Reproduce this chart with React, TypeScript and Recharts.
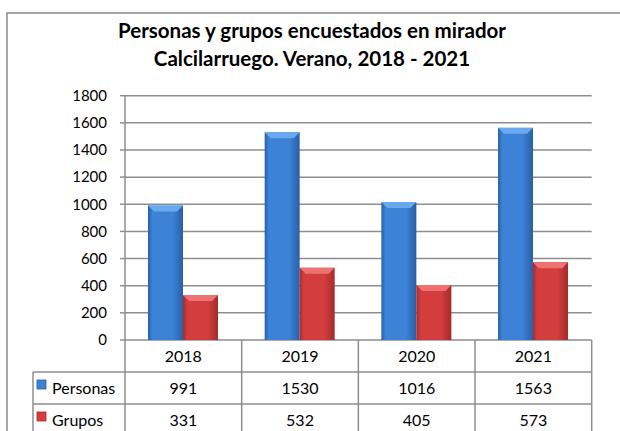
import { BarChart, Bar, XAxis, YAxis, CartesianGrid } from "recharts"

const years = ["2018", "2019", "2020", "2021"];
const personas = [991, 1530, 1016, 1563];
const grupos = [331, 532, 405, 573];
const yTicks = [0, 200, 400, 600, 800, 1000, 1200, 1400, 1600, 1800];

const series = [
  { key: "personas", label: "Personas", values: personas, mid: "#3c82d6", edge: "#2a5fa6", top: "#69a9ef" },
  { key: "grupos", label: "Grupos", values: grupos, mid: "#d43d3d", edge: "#a42b2b", top: "#ee7272" },
];

const data = years.map((year, i) => ({ year, personas: personas[i], grupos: grupos[i] }));

const W = 620;
const H = 431;
const left = 125;
const right = 28.3;
const top = 95.7;
const axisH = 91;
const colW = (W - left - right) / years.length;
const rowH = 32;
const legendLeft = 33;
const gridColor = "#8e8e8e";
const font = "Lato, 'Open Sans', sans-serif";

const Cylinder = (props: any) => {
  const { x, y, width, height, s } = props;
  if (!height || height <= 0) return null;
  const id = "grad-" + s.key;
  const bev = Math.min(6, height / 2);
  return (
    <g>
      <defs>
        <linearGradient id={id} x1="0" y1="0" x2="1" y2="0">
          <stop offset="0%" stopColor={s.edge} />
          <stop offset="12%" stopColor={s.mid} />
          <stop offset="70%" stopColor={s.mid} />
          <stop offset="100%" stopColor={s.edge} />
        </linearGradient>
      </defs>
      <rect x={x} y={y} width={width} height={height} fill={`url(#${id})`} />
      <polygon
        points={`${x},${y} ${x + width},${y} ${x + width - 6},${y + bev} ${x + 6},${y + bev}`}
        fill={s.top}
      />
    </g>
  );
};

const TableTick = (props: any) => {
  const { x, y, payload } = props;
  const i = payload.index;
  const x0 = x - colW / 2;
  const cells = [
    <line key="v" x1={x0 + colW} y1={y} x2={x0 + colW} y2={y + axisH} stroke={gridColor} strokeWidth={1.5} />,
    <text key="h" x={x} y={y + rowH / 2 + 6} textAnchor="middle" fontSize={16} fontFamily={font} fill="#000">
      {years[i]}
    </text>,
  ];
  series.forEach((s, r) => {
    cells.push(
      <text key={s.key} x={x} y={y + rowH * (r + 1) + rowH / 2 + 6} textAnchor="middle" fontSize={16} fontFamily={font} fill="#000">
        {s.values[i]}
      </text>
    );
  });
  let legend = null;
  if (i === 0) {
    legend = (
      <g>
        <line x1={x0} y1={y} x2={x0} y2={y + axisH} stroke={gridColor} strokeWidth={1.5} />
        <line x1={legendLeft} y1={y + rowH} x2={left + colW * years.length} y2={y + rowH} stroke={gridColor} strokeWidth={1.5} />
        <line x1={legendLeft} y1={y + rowH * 2} x2={left + colW * years.length} y2={y + rowH * 2} stroke={gridColor} strokeWidth={1.5} />
        <line x1={legendLeft} y1={y + rowH} x2={legendLeft} y2={y + axisH} stroke={gridColor} strokeWidth={1.5} />
        {series.map((s, r) => (
          <g key={s.key}>
            <rect x={37} y={y + rowH * (r + 1) + 8} width={9} height={9} fill={s.mid} stroke={s.edge} strokeWidth={0.8} />
            <text x={52} y={y + rowH * (r + 1) + rowH / 2 + 6} fontSize={16} fontFamily={font} fill="#000">
              {s.label}
            </text>
          </g>
        ))}
      </g>
    );
  }
  return (
    <g>
      {legend}
      {cells}
    </g>
  );
};

export default function App() {
  return (
    <div style={{ position: "absolute", left: 0, top: 0, width: W, height: H, background: "#fff" }}>
      <svg width={W} height={H} style={{ position: "absolute", left: 0, top: 0 }}>
        <rect x={7} y={13} width={W} height={H} fill="#fff" stroke="#8a8a8a" strokeWidth={1.5} />
        <text x={312} y={38} textAnchor="middle" fontSize={20.5} fontWeight="bold" fontFamily={font} fill="#000">
          Personas y grupos encuestados en mirador
        </text>
        <text x={312} y={66} textAnchor="middle" fontSize={20.5} fontWeight="bold" fontFamily={font} fill="#000">
          Calcilarruego. Verano, 2018 - 2021
        </text>
      </svg>
      <div style={{ position: "absolute", left: 0, top: 0 }}>
        <BarChart
          width={W}
          height={H}
          data={data}
          margin={{ top: top, right: right, left: 0, bottom: 0 }}
          barSize={35}
          barGap={0}
        >
          <CartesianGrid vertical={false} stroke={gridColor} strokeWidth={1.5} />
          <XAxis
            dataKey="year"
            height={axisH}
            axisLine={false}
            tickLine={false}
            tickSize={0}
            tickMargin={0}
            interval={0}
            tick={<TableTick />}
          />
          <YAxis
            width={left}
            domain={[0, 1800]}
            ticks={yTicks}
            interval={0}
            stroke={gridColor}
            axisLine={{ stroke: gridColor, strokeWidth: 1.5 }}
            tickLine={{ stroke: gridColor, strokeWidth: 1.5 }}
            tickSize={5}
            tickMargin={13}
            tick={{ fill: "#000", fontSize: 15, fontFamily: font }}
          />
          {series.map((s) => (
            <Bar
              key={s.key}
              dataKey={s.key}
              isAnimationActive={false}
              shape={(p: any) => <Cylinder {...p} s={s} />}
            />
          ))}
        </BarChart>
      </div>
    </div>
  );
}
